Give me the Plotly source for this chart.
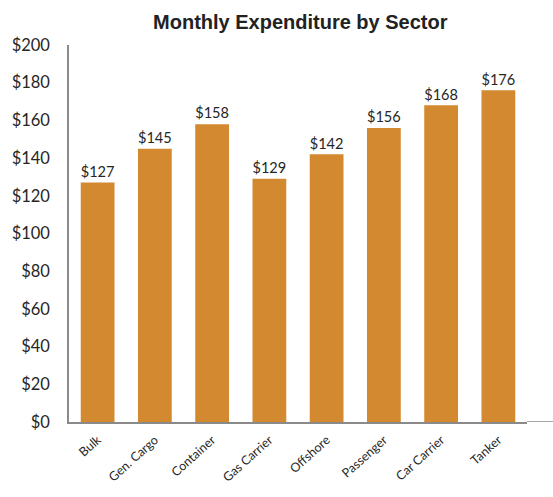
import plotly.graph_objects as go

sectors = ["Bulk", "Gen. Cargo", "Container", "Gas Carrier", "Offshore",
           "Passenger", "Car Carrier", "Tanker"]
spend = [127, 145, 158, 129, 142, 156, 168, 176]
y_ticks = list(range(0, 201, 20))
y_tick_labels = [f"${v}" for v in y_ticks]

label_font = "Lato, Open Sans, sans-serif"

fig = go.Figure()
fig.add_trace(go.Bar(
    x=sectors,
    y=spend,
    marker=dict(color="#D3892F", line=dict(width=0)),
    text=[f"${v}" for v in spend],
    textposition="outside",
    textfont=dict(family=label_font, size=16, color="#262626"),
    cliponaxis=False,
))

fig.update_layout(
    width=553, height=497,
    margin=dict(l=65, r=26, t=45, b=72),
    paper_bgcolor="white",
    plot_bgcolor="white",
    bargap=0.41,
    showlegend=False,
    title=dict(
        text="<b>Monthly Expenditure by Sector</b>",
        font=dict(family="Liberation Sans, Arial, sans-serif", size=20, color="#222222"),
        x=0.543, xanchor="center", y=0.955, yanchor="middle",
    ),
    yaxis=dict(
        range=[0, 200],
        tickvals=y_ticks,
        ticktext=y_tick_labels,
        showgrid=False,
        zeroline=False,
        showline=True, linecolor="#8a8a8a", linewidth=1.5,
        ticks="",
        ticklabelstandoff=14,
        tickfont=dict(family=label_font, size=16.5, color="#262626"),
    ),
    xaxis=dict(
        showline=True, linecolor="#8a8a8a", linewidth=1.5,
        ticks="",
        tickangle=-42,
        ticklabelstandoff=4,
        tickfont=dict(family=label_font, size=12.5, color="#262626"),
    ),
)

# the baseline runs on past the last bar to the right edge
fig.add_shape(type="line", xref="paper", yref="y",
              x0=1, x1=1.06, y0=0, y1=0,
              line=dict(color="#8a8a8a", width=1.5))

fig.write_html("out.html")
